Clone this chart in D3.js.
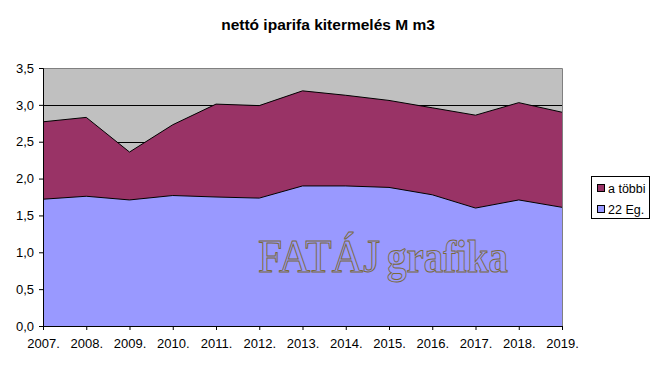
<!DOCTYPE html>
<html>
<head>
<meta charset="utf-8">
<script src="https://cdn.jsdelivr.net/npm/d3@7"></script>
<style>
  body { margin: 0; background: #fff; }
  svg text { font-family: Arial, "Liberation Sans", sans-serif; }
</style>
</head>
<body>
<div id="chart"></div>
<script>
let years = ["2007", "2008", "2009", "2010", "2011", "2012", "2013", "2014", "2015", "2016", "2017", "2018", "2019"];
let eg22 = [1.72, 1.76, 1.71, 1.77, 1.75, 1.735, 1.90, 1.90, 1.88, 1.78, 1.60, 1.71, 1.61];
let tobbi = [1.05, 1.07, 0.65, 0.96, 1.26, 1.255, 1.29, 1.23, 1.18, 1.18, 1.26, 1.32, 1.29];
let seriesNames = ["22 Eg.", "a többi"];
let seriesColors = ["#9999FF", "#993366"];
let yTicks = [0, 0.5, 1, 1.5, 2, 2.5, 3, 3.5];

let width = 656, height = 370;
let margin = { top: 68, left: 43, right: 94, bottom: 44 };
let plotW = width - margin.left - margin.right, plotH = height - margin.top - margin.bottom;

let rows = years.map((y, i) => ({ year: y, "22 Eg.": eg22[i], "a többi": tobbi[i] }));
let stacked = d3.stack().keys(seriesNames)(rows);

let xS = d3.scalePoint().domain(years).range([0, plotW]);
let yS = d3.scaleLinear().domain([0, 3.5]).range([plotH, 0]);

let svg = d3.select('#chart').append('svg')
  .attr('width', width).attr('height', height);

svg.append('text')
  .attr('x', 328).attr('y', 30)
  .attr('text-anchor', 'middle')
  .style('font-size', '15.5px').style('font-weight', 'bold')
  .text('nettó iparifa kitermelés M m3');

let graph = svg.append('g')
  .attr('transform', 'translate(' + margin.left + ',' + margin.top + ')');

graph.append('rect')
  .attr('width', plotW).attr('height', plotH)
  .attr('fill', '#C0C0C0');

// gridlines
graph.selectAll('line.grid')
  .data(yTicks.slice(1, -1))
  .enter().append('line')
  .attr('x1', 0).attr('x2', plotW)
  .attr('y1', d => Math.round(yS(d)) + 0.5).attr('y2', d => Math.round(yS(d)) + 0.5)
  .attr('stroke', '#000').attr('stroke-width', 1);

let area = d3.area()
  .x(d => xS(d.data.year))
  .y0(d => yS(d[0]))
  .y1(d => yS(d[1]));

let topLine = d3.line()
  .x(d => xS(d.data.year))
  .y(d => yS(d[1]));

graph.selectAll('path.area')
  .data(stacked)
  .enter().append('path')
  .attr('d', area)
  .attr('fill', (d, i) => seriesColors[i]);

graph.selectAll('path.edge')
  .data(stacked)
  .enter().append('path')
  .attr('d', topLine)
  .attr('fill', 'none')
  .attr('stroke', '#000').attr('stroke-width', 1);

// plot border (top & right)
graph.append('path')
  .attr('d', 'M0,0.5H' + (plotW + 0.5) + 'V' + plotH)
  .attr('fill', 'none').attr('stroke', '#808080');

// watermark
let wmParts = [
  { text: 'FATÁJ', x: 215, len: 122, weight: 'normal' },
  { text: 'grafika', x: 344, len: 121, weight: 'bold' }
];
graph.selectAll('text.wm')
  .data(wmParts)
  .enter().append('text')
  .attr('x', d => d.x).attr('y', 204)
  .attr('textLength', d => d.len)
  .attr('lengthAdjust', 'spacingAndGlyphs')
  .style('font-family', '"Liberation Serif", "DejaVu Serif", serif')
  .style('font-size', '47px')
  .style('font-weight', d => d.weight)
  .attr('fill', 'none')
  .attr('stroke', '#7A6A3A').attr('stroke-width', 1)
  .text(d => d.text);

// axes
let yAxis = graph.append('g')
  .call(d3.axisLeft(yS).tickValues(yTicks).tickSize(4).tickPadding(5)
    .tickFormat(d => d3.format('.1f')(d).replace('.', ',')));
yAxis.select('.domain').attr('stroke', '#000');
yAxis.selectAll('text').style('font-size', '13px').attr('fill', '#000');

let xAxis = graph.append('g')
  .attr('transform', 'translate(0,' + plotH + ')')
  .call(d3.axisBottom(xS).tickSize(4).tickSizeOuter(0).tickPadding(9).tickFormat(d => d + '.'));
xAxis.selectAll('text').style('font-size', '13px').attr('fill', '#000');

// legend
let legend = svg.append('g').attr('transform', 'translate(591,176)');
legend.append('rect')
  .attr('x', 0.5).attr('y', 0.5).attr('width', 58).attr('height', 42)
  .attr('fill', '#fff').attr('stroke', '#000');
let legendItems = [
  { name: seriesNames[1], color: seriesColors[1] },
  { name: seriesNames[0], color: seriesColors[0] }
];
let li = legend.selectAll('g.item')
  .data(legendItems)
  .enter().append('g')
  .attr('transform', (d, i) => 'translate(6,' + (8 + i * 21) + ')');
li.append('rect')
  .attr('x', 0.5).attr('y', 0.5).attr('width', 7).attr('height', 7)
  .attr('fill', d => d.color).attr('stroke', '#000');
li.append('text')
  .attr('x', 11).attr('y', 9)
  .style('font-size', '12.5px')
  .text(d => d.name);
</script>
</body>
</html>
